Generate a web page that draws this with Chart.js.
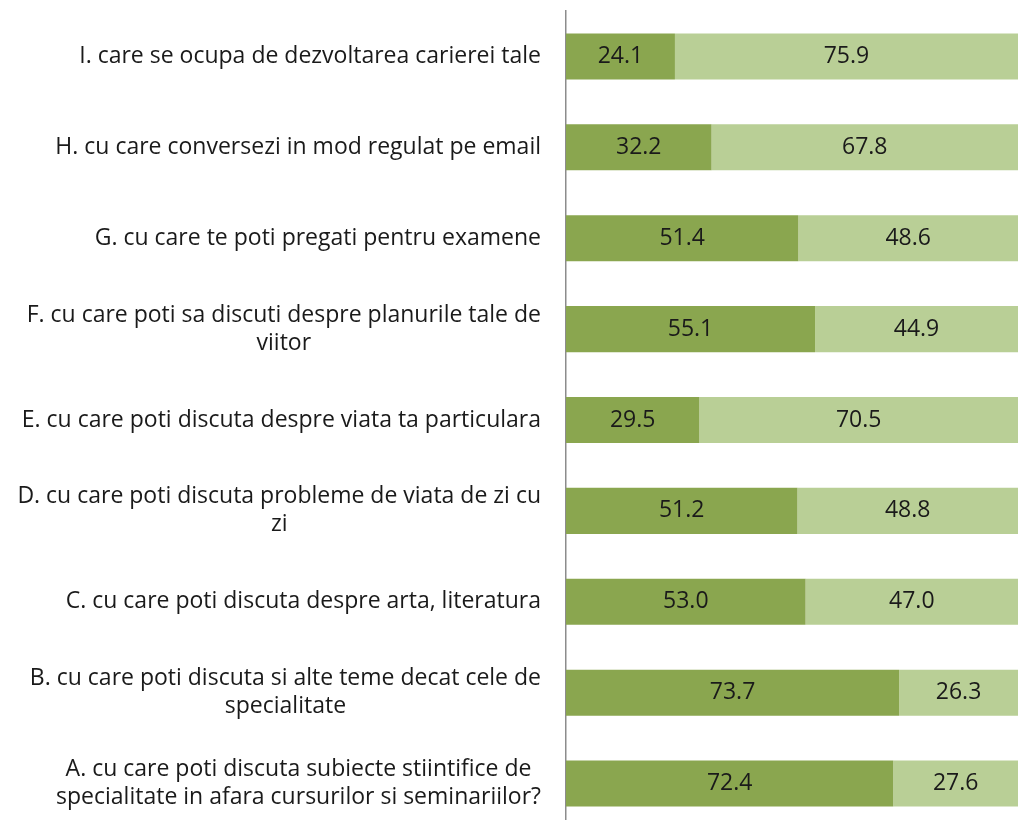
<!DOCTYPE html>
<html>
<head>
<meta charset="utf-8">
<script src="https://cdn.jsdelivr.net/npm/chart.js@4/dist/chart.umd.min.js"></script>
<style>
  html, body { margin: 0; padding: 0; background: #fff; overflow: hidden; }
  #wrap { width: 1018px; height: 829px; position: relative; }
</style>
</head>
<body>
<div id="wrap"><canvas id="barChart"></canvas></div>
<script>
/* ================= DATA ================= */

const categories = [
    ["A. cu care poti discuta subiecte stiintifice de", "specialitate in afara cursurilor si seminariilor?"],
    ["B. cu care poti discuta si alte teme decat cele de", "specialitate"],
    ["C. cu care poti discuta despre arta, literatura"],
    ["D. cu care poti discuta probleme de viata de zi cu", "zi"],
    ["E. cu care poti discuta despre viata ta particulara"],
    ["F. cu care poti sa discuti despre planurile tale de", "viitor"],
    ["G. cu care te poti pregati pentru examene"],
    ["H. cu care conversezi in mod regulat pe email"],
    ["I. care se ocupa de dezvoltarea carierei tale"]
];

const yesValues = [72.4, 73.7, 53.0, 51.2, 29.5, 55.1, 51.4, 32.2, 24.1];
const noValues  = [27.6, 26.3, 47.0, 48.8, 70.5, 44.9, 48.6, 67.8, 75.9];

const FONT = "23px 'Open Sans', sans-serif";

/* ================= LABEL PLUGINS ================= */

// category labels: block right aligned, lines centered inside the block
const categoryLabels = {
    id: "categoryLabels",
    afterDraw(chart) {
        const ctx = chart.ctx;
        const yScale = chart.scales.y;
        const rightEdge = 541;
        const lineH = 28;
        ctx.save();
        ctx.font = FONT;
        ctx.fillStyle = "#1a1a1a";
        ctx.textAlign = "center";
        ctx.textBaseline = "middle";
        categories.forEach((lines, i) => {
            const y = yScale.getPixelForValue(i);
            const maxW = Math.max(...lines.map(l => ctx.measureText(l).width));
            const cx = rightEdge - maxW / 2;
            lines.forEach((l, j) => {
                ctx.fillText(l, cx, y + (j - (lines.length - 1) / 2) * lineH);
            });
        });
        ctx.restore();
    }
};

// values in the middle of each segment
const valueLabels = {
    id: "valueLabels",
    afterDatasetsDraw(chart) {
        const ctx = chart.ctx;
        ctx.save();
        ctx.font = FONT;
        ctx.fillStyle = "#1a1a1a";
        ctx.textAlign = "center";
        ctx.textBaseline = "middle";
        chart.data.datasets.forEach((ds, d) => {
            chart.getDatasetMeta(d).data.forEach((bar, i) => {
                ctx.fillText(ds.data[i].toFixed(1), (bar.x + bar.base) / 2, bar.y);
            });
        });
        ctx.restore();
    }
};

/* ================= CHART ================= */

new Chart(document.getElementById("barChart"), {

    type: "bar",

    data: {
        labels: categories,
        datasets: [{
                data: yesValues,
                backgroundColor: "#8aa64f",
                borderWidth: 0
            }, {
                data: noValues,
                backgroundColor: "#b9cf96",
                borderWidth: 0
            }]
    },

    plugins: [categoryLabels, valueLabels],

    options: {
        indexAxis: "y",
        responsive: true,
        maintainAspectRatio: false,
        animation: false,
        barPercentage: 0.507,
        categoryPercentage: 1,

        layout: {
            padding: { top: 11, right: 0, bottom: 0, left: 0 }
        },

        plugins: {
            legend: { display: false },
            tooltip: { enabled: false }
        },

        scales: {
            x: {
                stacked: true,
                min: 0,
                max: 100,
                display: false
            },
            y: {
                stacked: true,
                reverse: true,
                grid: { display: false },
                border: { color: "#8c8c8c", width: 1.5 },
                ticks: { display: false },
                afterFit: function (scale) {
                    scale.width = 566;
                }
            }
        }
    }

});
</script>
</body>
</html>
